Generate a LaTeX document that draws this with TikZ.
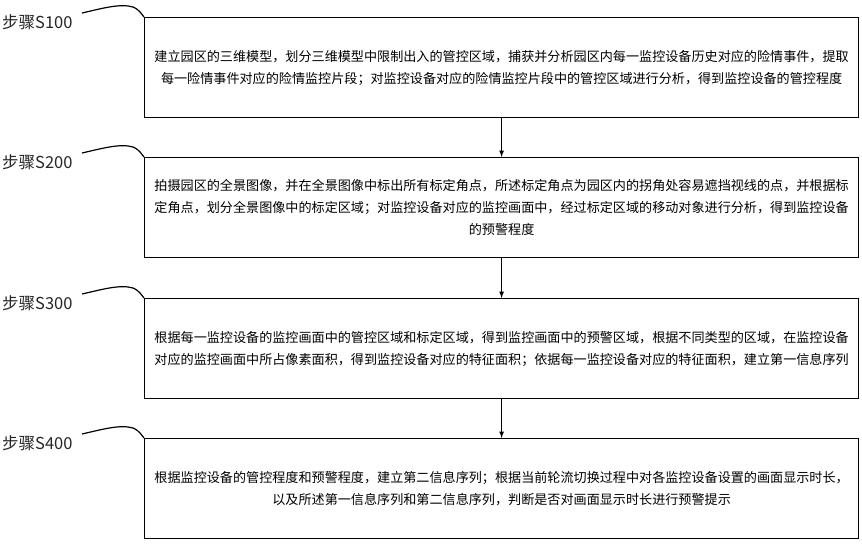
\documentclass[tikz,border=0pt]{standalone}
\usepackage{fontspec}
\setmainfont{Noto Sans CJK SC}
\begin{document}
\begin{tikzpicture}[x=1pt,y=-1pt,
  stepbox/.style={draw,line width=1.2pt,minimum width=714pt,minimum height=100pt,anchor=north west,inner sep=0pt,align=center,font=\fontsize{13.1}{22}\selectfont},
  steplabel/.style={anchor=west,font=\fontsize{16.5}{18}\selectfont,inner sep=0pt,text=black!85},
  lead/.style={line width=1.2pt},
  arr/.style={line width=1.2pt,-latex}]
\useasboundingbox (0,0) rectangle (862,551);
\node[stepbox] (b1) at (144,17) {建立园区的三维模型，划分三维模型中限制出入的管控区域，捕获并分析园区内每一监控设备历史对应的险情事件，提取\\每一险情事件对应的险情监控片段；对监控设备对应的险情监控片段中的管控区域进行分析，得到监控设备的管控程度};
\node[stepbox] (b2) at (144,157) {拍摄园区的全景图像，并在全景图像中标出所有标定角点，所述标定角点为园区内的拐角处容易遮挡视线的点，并根据标\\定角点，划分全景图像中的标定区域；对监控设备对应的监控画面中，经过标定区域的移动对象进行分析，得到监控设备\\的预警程度};
\node[stepbox] (b3) at (144,298) {根据每一监控设备的监控画面中的管控区域和标定区域，得到监控画面中的预警区域，根据不同类型的区域，在监控设备\\对应的监控画面中所占像素面积，得到监控设备对应的特征面积；依据每一监控设备对应的特征面积，建立第一信息序列};
\node[stepbox] (b4) at (144,438) {根据监控设备的管控程度和预警程度，建立第二信息序列；根据当前轮流切换过程中对各监控设备设置的画面显示时长，\\以及所述第一信息序列和第二信息序列，判断是否对画面显示时长进行预警提示};
\foreach \i/\t/\n in {1/17/S100,2/157/S200,3/298/S300,4/438/S400}{
  \node[steplabel] (l\i) at (2,\t+5) {步骤\n};
  \coordinate (p\i) at (82,\t-4);
  \draw[lead] (p\i) .. controls (100,\t-8) and (120,\t-14) .. (133,\t-10) .. controls (140,\t-7) and (142,\t-2) .. (b\i.north west);
}
\draw[arr] (b1.south) -- (b2.north);
\draw[arr] (b2.south) -- (b3.north);
\draw[arr] (b3.south) -- (b4.north);
\end{tikzpicture}
\end{document}
